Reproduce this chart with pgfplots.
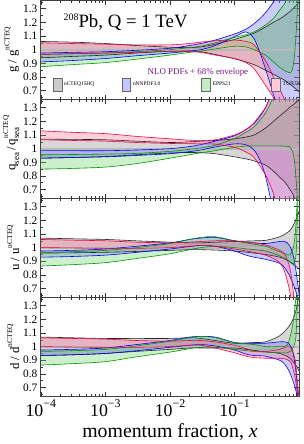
\documentclass[border=0pt]{standalone}
\usepackage{fontspec}
\setmainfont{Liberation Serif}
\usepackage{pgfplots}
\usepackage{pgfplotstable}
\pgfplotsset{compat=1.18}
\usepgfplotslibrary{groupplots,fillbetween}

\definecolor{ncedge}{RGB}{40,40,40}
\definecolor{ncfill}{RGB}{140,140,140}
\definecolor{nnedge}{RGB}{0,0,255}
\definecolor{nnfill}{RGB}{110,110,255}
\definecolor{epedge}{RGB}{0,150,0}
\definecolor{epfill}{RGB}{110,210,110}
\definecolor{tuedge}{RGB}{240,0,70}
\definecolor{tufill}{RGB}{255,120,150}
\definecolor{nlocol}{RGB}{125,20,140}

% gluon
\pgfplotstableread{
x hi lo
1e-4 1.06 0.94
3e-4 1.055 0.95
1e-3 1.045 0.96
3e-3 1.03 0.975
1e-2 1.018 0.988
2e-2 1.015 0.99
3e-2 1.02 0.985
5e-2 1.04 0.965
0.1 1.075 0.933
0.15 1.1 0.91
0.2 1.12 0.89
0.3 1.165 0.85
0.4 1.2 0.82
0.5 1.225 0.795
0.6 1.25 0.775
0.7 1.275 0.75
0.8 1.3 0.73
0.9 1.325 0.71
1.0 1.35 0.69
}\gNC
\pgfplotstableread{
x hi lo
1e-4 0.975 0.91
3e-4 0.98 0.92
1e-3 0.985 0.935
3e-3 0.995 0.955
1e-2 1.01 0.975
2e-2 1.03 0.99
3e-2 1.045 1.0
5e-2 1.07 1.03
0.1 1.115 1.095
0.15 1.15 1.13
0.2 1.19 1.08
0.25 1.23 0.97
0.3 1.27 0.86
0.35 1.31 0.76
0.4 1.35 0.67
0.45 1.4 0.6
0.5 1.45 0.52
0.7 1.6 0.4
1.0 1.7 0.3
}\gNN
\pgfplotstableread{
x hi lo
1e-4 0.965 0.875
3e-4 0.97 0.89
1e-3 0.975 0.905
3e-3 0.985 0.93
1e-2 1.0 0.96
2e-2 1.015 0.98
3e-2 1.025 0.99
5e-2 1.05 1.005
0.1 1.09 1.025
0.15 1.11 1.02
0.2 1.13 1.0
0.3 1.18 0.96
0.4 1.23 0.91
0.5 1.29 0.87
0.6 1.34 0.845
0.7 1.42 0.832
0.75 1.46 0.835
0.8 1.5 0.87
0.85 1.55 0.97
0.9 1.6 1.13
0.95 1.7 1.36
1.0 1.8 1.6
}\gEP
\pgfplotstableread{
x hi lo
1e-4 1.05 0.965
3e-4 1.045 0.97
1e-3 1.04 0.975
3e-3 1.035 0.98
1e-2 1.035 0.988
2e-2 1.045 0.985
3e-2 1.055 0.98
5e-2 1.065 0.96
0.1 1.07 0.935
0.15 1.06 0.905
0.2 1.035 0.86
0.3 0.92 0.74
0.4 0.8 0.65
0.5 0.71 0.57
0.6 0.63 0.5
0.7 0.55 0.43
0.85 0.45 0.35
1.0 0.4 0.3
}\gTU
% sea
\pgfplotstableread{
x hi lo
1e-4 1.07 0.93
3e-4 1.068 0.935
1e-3 1.065 0.942
3e-3 1.055 0.955
1e-2 1.045 0.968
2e-2 1.05 0.972
3e-2 1.055 0.97
5e-2 1.06 0.963
0.1 1.072 0.94
0.15 1.085 0.925
0.2 1.1 0.91
0.3 1.15 0.88
0.4 1.2 0.835
0.5 1.24 0.79
0.6 1.27 0.755
0.7 1.3 0.71
0.8 1.32 0.665
0.9 1.34 0.6
1.0 1.36 0.55
}\sNC
\pgfplotstableread{
x hi lo
1e-4 0.985 0.93
3e-4 0.985 0.935
1e-3 0.985 0.94
3e-3 0.99 0.95
1e-2 1.0 0.963
2e-2 1.015 0.978
3e-2 1.03 0.99
5e-2 1.055 1.012
0.1 1.095 1.035
0.15 1.14 1.028
0.2 1.185 0.99
0.25 1.24 0.91
0.3 1.3 0.8
0.35 1.37 0.66
0.4 1.45 0.52
0.5 1.6 0.4
1.0 1.7 0.3
}\sNN
\pgfplotstableread{
x hi lo
1e-4 0.955 0.85
3e-4 0.957 0.855
1e-3 0.96 0.865
3e-3 0.965 0.89
1e-2 0.98 0.93
2e-2 0.995 0.955
3e-2 1.005 0.97
5e-2 1.025 0.985
0.1 1.075 1.01
0.15 1.12 1.018
0.2 1.16 1.02
0.3 1.26 1.02
0.4 1.38 1.02
0.5 1.5 1.02
0.7 1.7 1.015
0.75 1.75 1.0
0.8 1.8 0.97
0.85 1.85 0.9
0.9 1.9 0.76
0.95 2.0 0.6
1.0 2.0 0.5
}\sEP
\pgfplotstableread{
x hi lo
1e-4 1.13 1.065
3e-4 1.12 1.06
1e-3 1.11 1.055
3e-3 1.09 1.045
1e-2 1.072 1.038
2e-2 1.062 1.036
3e-2 1.06 1.035
5e-2 1.065 1.033
0.1 1.1 1.01
0.15 1.14 0.975
0.2 1.19 0.935
0.3 1.3 0.81
0.35 1.38 0.74
0.4 1.5 0.67
0.5 1.7 0.52
0.6 1.9 0.4
0.8 2.0 0.3
1.0 2.0 0.3
}\sTU
% u
\pgfplotstableread{
x hi lo
1e-4 1.07 0.96
3e-4 1.065 0.962
1e-3 1.06 0.966
3e-3 1.05 0.972
1e-2 1.04 0.98
2e-2 1.035 0.985
3e-2 1.035 0.985
5e-2 1.04 0.982
0.1 1.045 0.975
0.2 1.05 0.96
0.3 1.053 0.95
0.5 1.08 0.93
0.7 1.12 0.9
0.8 1.16 0.88
0.9 1.21 0.86
1.0 1.27 0.84
}\uNC
\pgfplotstableread{
x hi lo
1e-4 0.975 0.93
3e-4 0.98 0.935
1e-3 0.99 0.945
3e-3 1.01 0.965
1e-2 1.035 0.99
2e-2 1.06 1.008
3e-2 1.07 1.015
5e-2 1.075 1.01
0.1 1.05 0.975
0.15 1.04 0.945
0.2 1.035 0.93
0.3 1.03 0.915
0.5 1.045 0.885
0.6 1.045 0.85
0.7 1.02 0.8
0.8 0.95 0.74
0.9 0.82 0.67
1.0 0.65 0.58
}\uNN
\pgfplotstableread{
x hi lo
1e-4 0.965 0.865
3e-4 0.97 0.875
1e-3 0.98 0.89
3e-3 1.0 0.92
1e-2 1.03 0.955
2e-2 1.06 0.985
3e-2 1.075 1.0
5e-2 1.08 1.01
0.1 1.05 1.0
0.2 1.025 0.985
0.3 1.01 0.975
0.5 0.97 0.94
0.7 0.945 0.9
0.75 0.96 0.885
0.8 0.99 0.88
0.85 1.06 0.9
0.9 1.2 0.97
0.95 1.45 1.3
1.0 1.7 1.6
}\uEP
\pgfplotstableread{
x hi lo
1e-4 1.06 1.0
3e-4 1.055 0.998
1e-3 1.05 0.995
3e-3 1.04 0.995
1e-2 1.035 1.0
2e-2 1.04 1.01
3e-2 1.045 1.015
5e-2 1.05 1.01
0.1 1.05 0.99
0.2 1.035 0.965
0.3 1.02 0.945
0.4 1.0 0.92
0.5 0.98 0.89
0.6 0.95 0.82
0.7 0.87 0.7
0.75 0.8 0.63
0.8 0.7 0.55
0.85 0.6 0.5
0.92 0.5 0.42
1.0 0.45 0.4
}\uTU
% d
\pgfplotstableread{
x hi lo
1e-4 1.07 0.935
3e-4 1.065 0.94
1e-3 1.06 0.95
3e-3 1.06 0.965
1e-2 1.06 0.98
2e-2 1.065 0.99
3e-2 1.06 0.99
5e-2 1.045 0.99
0.1 1.025 0.99
0.2 1.03 0.972
0.3 1.035 0.962
0.5 1.08 0.95
0.7 1.15 0.92
0.8 1.2 0.89
0.9 1.27 0.86
0.95 1.33 0.84
1.0 1.4 0.82
}\dNC
\pgfplotstableread{
x hi lo
1e-4 0.975 0.935
3e-4 0.98 0.94
1e-3 0.99 0.95
3e-3 1.015 0.97
1e-2 1.045 0.995
2e-2 1.07 1.01
3e-2 1.075 1.015
5e-2 1.07 1.005
0.1 1.03 0.975
0.15 1.025 0.945
0.2 1.025 0.935
0.3 1.025 0.93
0.5 1.035 0.9
0.6 1.035 0.87
0.7 1.02 0.82
0.8 0.96 0.75
0.9 0.8 0.67
0.95 0.63 0.6
1.0 0.5 0.48
}\dNN
\pgfplotstableread{
x hi lo
1e-4 0.965 0.865
3e-4 0.97 0.875
1e-3 0.98 0.89
3e-3 1.005 0.925
1e-2 1.04 0.96
2e-2 1.065 0.985
3e-2 1.075 0.995
5e-2 1.065 0.995
0.1 1.03 0.98
0.2 1.015 0.965
0.3 1.0 0.96
0.5 1.0 0.955
0.65 1.01 0.955
0.75 1.1 0.97
0.8 1.17 0.99
0.85 1.27 1.02
0.9 1.38 1.1
0.95 1.5 1.4
1.0 1.6 1.6
}\dEP
\pgfplotstableread{
x hi lo
1e-4 1.065 1.0
3e-4 1.06 0.997
1e-3 1.055 0.995
3e-3 1.045 0.995
1e-2 1.04 1.0
2e-2 1.045 1.01
3e-2 1.045 1.01
5e-2 1.035 0.99
0.1 1.01 0.955
0.15 0.985 0.93
0.2 0.97 0.92
0.3 0.965 0.915
0.5 0.98 0.915
0.65 1.0 0.905
0.75 0.99 0.88
0.85 0.92 0.79
0.9 0.84 0.72
0.95 0.72 0.63
1.0 0.6 0.55
}\dTU

\newcommand{\band}[4]{%
  \addplot[draw=#2, line width=0.6pt, smooth, name path=#4u, forget plot] table[x=x,y=hi]{#1};
  \addplot[draw=#2, line width=0.6pt, smooth, name path=#4l, forget plot] table[x=x,y=lo]{#1};
  \addplot[fill=#3, fill opacity=0.35, draw=none, forget plot] fill between[of=#4u and #4l];
}
\newcommand{\allbands}[4]{%
  \addplot[gray!55, line width=1.8pt, forget plot] coordinates {(1e-4,1) (1,1)};
  \band{#1}{ncedge}{ncfill}{a}
  \band{#2}{nnedge}{nnfill}{b}
  \band{#3}{epedge}{epfill}{c}
  \band{#4}{tuedge}{tufill}{d}
}
\pgfplotsset{swatch/.style={legend image code/.code={\draw[line width=0.6pt,##1] (0pt,-6.5pt) rectangle (9pt,6.5pt);}}}

\begin{document}
\begin{tikzpicture}
\begin{groupplot}[
  group style={group size=1 by 4, vertical sep=0pt, xticklabels at=edge bottom, xlabels at=edge bottom},
  width=261pt, height=100pt, scale only axis,
  xmode=log, xmin=1e-4, xmax=1, ymin=0.635, ymax=1.36,
  xtick={1e-4,1e-3,1e-2,1e-1},
  xticklabels={10\raisebox{0.5em}{\fontsize{12}{12}\selectfont −4},10\raisebox{0.5em}{\fontsize{12}{12}\selectfont −3},10\raisebox{0.5em}{\fontsize{12}{12}\selectfont −2},10\raisebox{0.5em}{\fontsize{12}{12}\selectfont −1}},
  minor xtick={2e-4,3e-4,4e-4,5e-4,6e-4,7e-4,8e-4,9e-4,2e-3,3e-3,4e-3,5e-3,6e-3,7e-3,8e-3,9e-3,2e-2,3e-2,4e-2,5e-2,6e-2,7e-2,8e-2,9e-2,0.2,0.3,0.4,0.5,0.6,0.7,0.8,0.9},
  ytick={0.7,0.8,0.9,1,1.1,1.2,1.3},
  yticklabels={0.7,0.8,0.9,1,1.1,1.2,1.3},
  minor ytick={0.65,0.75,0.85,0.95,1.05,1.15,1.25,1.35},
  tick align=inside,
  major tick length=5pt, minor tick length=2.5pt,
  tick style={black!80, line width=0.6pt},
  axis line style={black!75, line width=1pt},
  yticklabel style={font=\fontsize{11.5}{12}\selectfont},
  xticklabel style={font=\fontsize{18}{18}\selectfont},
  ylabel style={font=\fontsize{13}{13}\selectfont},
  xlabel style={font=\fontsize{20}{20}\selectfont},
  ylabel shift=-3pt,
]
\nextgroupplot[ylabel={g / g\raisebox{0.55em}{\fontsize{7.5}{7.5}\selectfont nCTEQ}},
  legend style={at={(0.045,0.15)}, anchor=west, legend columns=4, draw=none, fill=none,
    font=\fontsize{5.5}{6}\selectfont, inner sep=0pt, /tikz/every even column/.style={column sep=0pt}},
  legend cell align=left]
\allbands{\gNC}{\gNN}{\gEP}{\gTU}
\addlegendimage{swatch, fill=ncfill!45, draw=ncedge!70}
\addlegendentry{\makebox[56pt][l]{nCTEQ15HQ}}
\addlegendimage{swatch, fill=nnfill!40, draw=ncedge!70}
\addlegendentry{\makebox[67pt][l]{nNNPDF3.0}}
\addlegendimage{swatch, fill=epfill!40, draw=ncedge!70}
\addlegendentry{\makebox[57pt][l]{EPPS21}}
\addlegendimage{swatch, fill=tufill!40, draw=ncedge!70}
\addlegendentry{TUJU21}
\node[anchor=base west, font=\fontsize{19}{19}\selectfont] at (rel axis cs:0.075,0.73) {\raisebox{7pt}{\fontsize{10}{10}\selectfont 208}Pb, Q = 1 TeV};
\node[anchor=base west, font=\fontsize{9}{9}\selectfont, text=nlocol] at (rel axis cs:0.40,0.255) {NLO PDFs + 68\% envelope};

\nextgroupplot[ylabel={q\raisebox{-0.3em}{\fontsize{9}{9}\selectfont sea}\,/\,q\rlap{\raisebox{0.55em}{\fontsize{7.5}{7.5}\selectfont nCTEQ}}\raisebox{-0.3em}{\fontsize{9}{9}\selectfont sea}\hspace{14pt}}]
\allbands{\sNC}{\sNN}{\sEP}{\sTU}

\nextgroupplot[ylabel={u / u\raisebox{0.55em}{\fontsize{7.5}{7.5}\selectfont nCTEQ}}]
\allbands{\uNC}{\uNN}{\uEP}{\uTU}

\nextgroupplot[ylabel={d / d\raisebox{0.55em}{\fontsize{7.5}{7.5}\selectfont nCTEQ}}, xlabel={momentum fraction, \textit{x}}]
\allbands{\dNC}{\dNN}{\dEP}{\dTU}
\end{groupplot}
\end{tikzpicture}
\end{document}
